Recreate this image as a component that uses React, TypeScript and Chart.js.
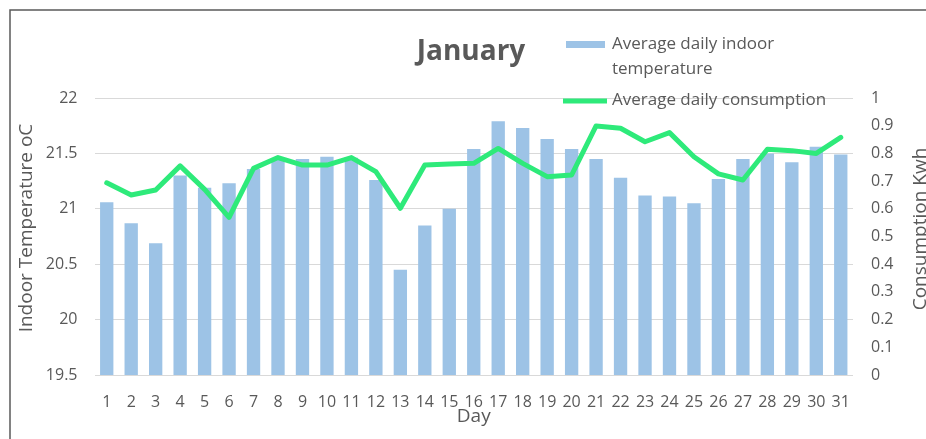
import React, { useEffect, useRef } from 'react';
import { Chart, registerables } from 'chart.js';

Chart.register(...registerables);

const chartTitle = 'January';
const days = ['1', '2', '3', '4', '5', '6', '7', '8', '9', '10', '11', '12', '13', '14', '15', '16', '17', '18', '19', '20', '21', '22', '23', '24', '25', '26', '27', '28', '29', '30', '31'];
const temperature = [21.06, 20.87, 20.69, 21.3, 21.19, 21.23, 21.36, 21.44, 21.45, 21.47, 21.46, 21.26, 20.45, 20.85, 21.0, 21.54, 21.79, 21.73, 21.63, 21.54, 21.45, 21.28, 21.12, 21.11, 21.05, 21.27, 21.45, 21.5, 21.42, 21.56, 21.49];
const consumption = [0.694, 0.65, 0.668, 0.755, 0.67, 0.569, 0.746, 0.785, 0.758, 0.758, 0.785, 0.734, 0.602, 0.758, 0.762, 0.764, 0.818, 0.764, 0.716, 0.722, 0.899, 0.891, 0.842, 0.875, 0.788, 0.726, 0.704, 0.815, 0.81, 0.8, 0.858];
const tempLabel = ['Average daily indoor', 'temperature'];
const consLabel = 'Average daily consumption';
const leftTitle = 'Indoor Temperature oC';
const rightTitle = 'Consumption Kwh';
const xTitle = 'Day';

const TEXT = '#595959';
const BAR = '#9DC3E6';
const LINE = '#2EEA7A';
const FONT = '"Open Sans"';

const fmt = (v: any) => String(Math.round(Number(v) * 100) / 100);

const decor = {
  id: 'decor',
  afterDraw(chart: any) {
    const ctx = chart.ctx as CanvasRenderingContext2D;
    const area = chart.chartArea;
    ctx.save();
    // frame
    ctx.strokeStyle = '#5a5a5a';
    ctx.lineWidth = 1.5;
    ctx.beginPath();
    ctx.moveTo(10, 439);
    ctx.lineTo(10, 10);
    ctx.lineTo(926, 10);
    ctx.stroke();

    // title
    ctx.fillStyle = TEXT;
    ctx.textAlign = 'center';
    ctx.textBaseline = 'middle';
    ctx.font = `bold 28px ${FONT}`;
    ctx.fillText(chartTitle, 471, 52);

    // legend
    ctx.fillStyle = BAR;
    ctx.fillRect(566, 41, 39, 7);
    ctx.strokeStyle = LINE;
    ctx.lineWidth = 5;
    ctx.beginPath();
    ctx.moveTo(563, 101);
    ctx.lineTo(607, 101);
    ctx.stroke();
    ctx.fillStyle = TEXT;
    ctx.textAlign = 'left';
    ctx.font = `17px ${FONT}`;
    ctx.fillText(tempLabel[0], 612, 44);
    ctx.fillText(tempLabel[1], 612, 69);
    ctx.fillText(consLabel, 612, 100);

    // axis titles
    ctx.font = `19px ${FONT}`;
    ctx.textAlign = 'center';
    ctx.fillText(xTitle, (area.left + area.right) / 2, 417);
    ctx.save();
    ctx.translate(27, 228);
    ctx.rotate(-Math.PI / 2);
    ctx.fillText(leftTitle, 0, 0);
    ctx.restore();
    ctx.save();
    ctx.translate(921, 229);
    ctx.rotate(-Math.PI / 2);
    ctx.fillText(rightTitle, 0, 0);
    ctx.restore();
    ctx.restore();
  },
};

export default function App() {
  const ref = useRef<HTMLCanvasElement>(null);
  useEffect(() => {
    document.body.style.margin = '0';
    Chart.defaults.font.family = FONT;
    Chart.defaults.color = TEXT;
    const chart = new Chart(ref.current!, {
      type: 'bar',
      data: {
        labels: days,
        datasets: [
          {
            type: 'line',
            label: consLabel,
            data: consumption,
            yAxisID: 'y1',
            borderColor: LINE,
            backgroundColor: LINE,
            borderWidth: 5,
            pointRadius: 0,
            tension: 0,
            borderJoinStyle: 'round',
            borderCapStyle: 'round',
            order: 0,
          } as any,
          {
            type: 'bar',
            label: tempLabel.join(' '),
            data: temperature,
            yAxisID: 'y',
            backgroundColor: BAR,
            barPercentage: 0.545,
            categoryPercentage: 1,
            order: 1,
          },
        ],
      },
      options: {
        responsive: false,
        animation: false,
        layout: { padding: { top: 98, left: 0, right: 0, bottom: 0 } },
        plugins: { legend: { display: false }, title: { display: false }, tooltip: { enabled: false } },
        scales: {
          x: {
            grid: { display: false, drawTicks: false },
            border: { display: false },
            ticks: { font: { size: 16 }, color: TEXT, padding: 18, maxRotation: 0, autoSkip: false },
            afterFit: (s: any) => { s.height = 64; },
          },
          y: {
            position: 'left',
            min: 19.5,
            max: 22,
            grid: { color: '#d9d9d9', lineWidth: 1, drawTicks: false },
            border: { display: false },
            ticks: { stepSize: 0.5, font: { size: 16 }, color: TEXT, padding: 17, callback: fmt },
            afterFit: (s: any) => { s.width = 94.5; },
          },
          y1: {
            position: 'right',
            min: 0,
            max: 1,
            grid: { display: false, drawTicks: false },
            border: { display: false },
            ticks: { stepSize: 0.1, font: { size: 16 }, color: TEXT, padding: 18, callback: fmt },
            afterFit: (s: any) => { s.width = 73; },
          },
        },
      },
      plugins: [decor],
    });
    return () => chart.destroy();
  }, []);
  return (
    <div style={{ position: 'absolute', left: 0, top: 0, width: 926, height: 439, background: '#fff' }}>
      <canvas ref={ref} width={926} height={439} style={{ display: 'block' }} />
    </div>
  );
}
